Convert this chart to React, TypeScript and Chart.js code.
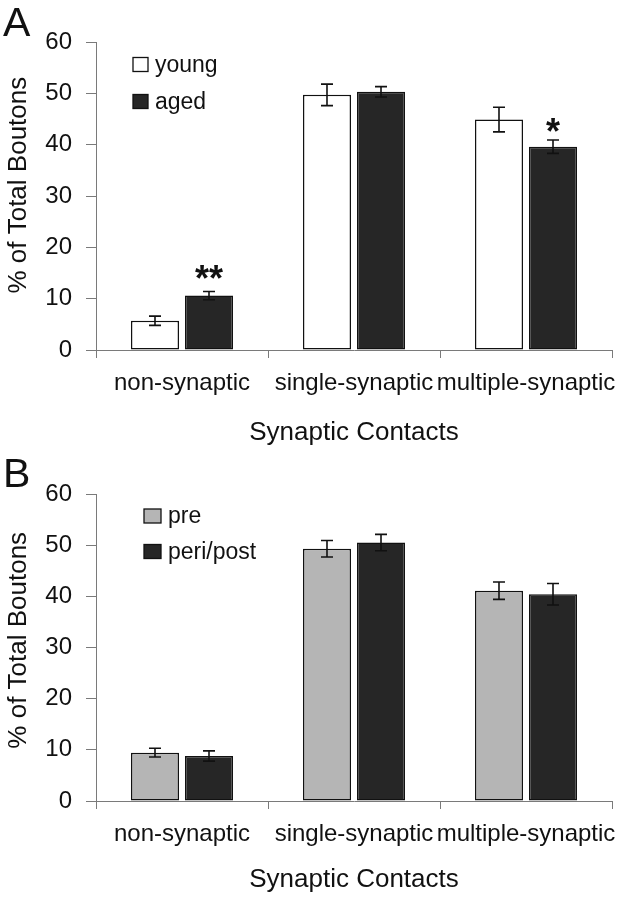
import React, { useEffect, useRef } from "react";
import { Chart, registerables } from "chart.js";

Chart.register(...registerables);

const FONT = "'Liberation Sans', Arial, Helvetica, sans-serif";

// ---------- data ----------
const categories = ["non-synaptic", "single-synaptic", "multiple-synaptic"];
const yTickValues = [0, 10, 20, 30, 40, 50, 60];
const xAxisTitle = "Synaptic Contacts";
const yAxisTitle = "% of Total Boutons";

// Panel A
const youngValues = [5.7, 49.7, 44.9];
const youngErrors = [0.9, 2.1, 2.4];
const agedValues = [10.6, 50.3, 39.6];
const agedErrors = [0.8, 1.0, 1.3];
const agedMarks = ["**", "", "*"];
const agedMarkValues = [15.5, null, 44.1];

// Panel B
const preValues = [9.45, 49.3, 41.1];
const preErrors = [0.85, 1.6, 1.7];
const periPostValues = [8.8, 50.5, 40.4];
const periPostErrors = [1.0, 1.6, 2.1];

// ---------- plugins ----------
const errorBarPlugin = {
  id: "errorBars",
  afterDatasetsDraw(chart: any) {
    const { ctx } = chart;
    const y = chart.scales.y;
    chart.data.datasets.forEach((ds: any, i: number) => {
      const errs = ds.errors;
      if (!errs) return;
      const meta = chart.getDatasetMeta(i);
      meta.data.forEach((bar: any, j: number) => {
        const v = ds.data[j];
        const e = errs[j];
        const yt = y.getPixelForValue(v + e);
        const yb = y.getPixelForValue(v - e);
        const cap = 6;
        ctx.save();
        ctx.strokeStyle = "#111";
        ctx.lineWidth = 1.6;
        ctx.beginPath();
        ctx.moveTo(bar.x, yt);
        ctx.lineTo(bar.x, yb);
        ctx.moveTo(bar.x - cap, yt);
        ctx.lineTo(bar.x + cap, yt);
        ctx.moveTo(bar.x - cap, yb);
        ctx.lineTo(bar.x + cap, yb);
        ctx.stroke();
        ctx.restore();
      });
    });
  },
};

const marksPlugin = {
  id: "sigMarks",
  afterDatasetsDraw(chart: any) {
    const { ctx } = chart;
    const y = chart.scales.y;
    chart.data.datasets.forEach((ds: any, i: number) => {
      if (!ds.marks) return;
      const meta = chart.getDatasetMeta(i);
      const size = 36;
      ds.marks.forEach((m: string, j: number) => {
        const mv = ds.markValues[j];
        if (!m || mv == null) return;
        const cy = y.getPixelForValue(mv);
        ctx.save();
        ctx.fillStyle = "#111";
        ctx.font = `bold ${size}px ${FONT}`;
        ctx.textAlign = "center";
        ctx.textBaseline = "alphabetic";
        ctx.fillText(m, meta.data[j].x, cy + 0.57 * size);
        ctx.restore();
      });
    });
  },
};

const insetLegendPlugin = {
  id: "insetLegend",
  afterDraw(chart: any, _args: any, opts: any) {
    const { ctx, chartArea } = chart;
    chart.data.datasets.forEach((ds: any, i: number) => {
      const cy = chartArea.top + opts.y + i * opts.spacing;
      const bx = chartArea.left + opts.x;
      ctx.save();
      ctx.fillStyle = ds.backgroundColor;
      ctx.fillRect(bx, cy - opts.boxH / 2, opts.boxW, opts.boxH);
      ctx.strokeStyle = "#111";
      ctx.lineWidth = 1.3;
      ctx.strokeRect(bx, cy - opts.boxH / 2, opts.boxW, opts.boxH);
      ctx.fillStyle = "#111";
      ctx.font = `${opts.fontSize}px ${FONT}`;
      ctx.textAlign = "left";
      ctx.textBaseline = "middle";
      ctx.fillText(ds.label, bx + opts.boxW + 7, cy + 1);
      ctx.restore();
    });
  },
};

type PanelProps = {
  datasets: any[];
  height: number;
  padTop: number;
  xAxisHeight: number;
  xTitlePadBottom: number;
  yTitleText: string;
  legend: any;
};

function BarPanel(props: PanelProps) {
  const ref = useRef<HTMLCanvasElement | null>(null);
  useEffect(() => {
    if (!ref.current) return;
    const chart = new Chart(ref.current, {
      type: "bar",
      data: {
        labels: categories,
        datasets: props.datasets.map((d) => ({
          ...d,
          borderColor: "#111",
          borderWidth: 1.5,
          borderSkipped: false,
          categoryPercentage: 0.628,
          barPercentage: 0.89,
        })),
      },
      plugins: [errorBarPlugin, marksPlugin, insetLegendPlugin],
      options: {
        responsive: false,
        animation: false,
        devicePixelRatio: 1,
        layout: { padding: { top: props.padTop, right: 19, left: 0, bottom: 0 } },
        plugins: {
          legend: { display: false },
          tooltip: { enabled: false },
          insetLegend: props.legend,
        } as any,
        scales: {
          x: {
            offset: true,
            grid: {
              offset: true,
              drawOnChartArea: false,
              drawTicks: true,
              tickLength: 8,
              color: "#7a7a7a",
            },
            border: { color: "#7a7a7a", width: 1 },
            ticks: {
              color: "#111",
              font: { size: 24, family: FONT },
              padding: 11,
              maxRotation: 0,
              autoSkip: false,
            },
            title: {
              display: true,
              text: xAxisTitle,
              color: "#111",
              font: { size: 26, family: FONT, lineHeight: 1 },
              padding: { top: 0, bottom: props.xTitlePadBottom },
            },
            afterFit: (s: any) => {
              s.height = props.xAxisHeight;
            },
          },
          y: {
            min: 0,
            max: 60,
            grid: {
              drawOnChartArea: false,
              drawTicks: true,
              tickLength: 10,
              color: "#7a7a7a",
            },
            border: { color: "#7a7a7a", width: 1 },
            ticks: {
              color: "#111",
              font: { size: 24, family: FONT },
              padding: 14,
            },
            afterBuildTicks: (s: any) => {
              s.ticks = yTickValues.map((v) => ({ value: v }));
            },
            title: {
              display: true,
              text: props.yTitleText,
              color: "#111",
              font: { size: 26, family: FONT, lineHeight: 1 },
              padding: { top: 6, bottom: 0 },
            },
            afterFit: (s: any) => {
              s.width = 96;
            },
          },
        },
      } as any,
    });
    return () => chart.destroy();
  }, []);
  return (
    <canvas
      ref={ref}
      width={631}
      height={props.height}
      style={{ display: "block", width: 631, height: props.height }}
    />
  );
}

const letterStyle: React.CSSProperties = {
  position: "absolute",
  left: 3,
  fontFamily: FONT,
  fontSize: 41,
  lineHeight: "41px",
  color: "#111",
  margin: 0,
};

export default function App() {
  const datasetsA = [
    { label: "young", data: youngValues, errors: youngErrors, backgroundColor: "#ffffff" },
    {
      label: "aged",
      data: agedValues,
      errors: agedErrors,
      backgroundColor: "#262626",
      marks: agedMarks,
      markValues: agedMarkValues,
    },
  ];
  const datasetsB = [
    { label: "pre", data: preValues, errors: preErrors, backgroundColor: "#b5b5b5" },
    { label: "peri/post", data: periPostValues, errors: periPostErrors, backgroundColor: "#262626" },
  ];
  return (
    <div
      style={{
        position: "absolute",
        left: 0,
        top: 0,
        width: 631,
        height: 899,
        background: "#fff",
        overflow: "hidden",
      }}
    >
      <div style={{ position: "absolute", left: 0, top: 0 }}>
        <BarPanel
          datasets={datasetsA}
          height={450}
          padTop={42}
          xAxisHeight={100}
          xTitlePadBottom={4}
          yTitleText={"   " + yAxisTitle}
          legend={{ x: 37, y: 22.5, spacing: 37, boxW: 15, boxH: 14, fontSize: 23 }}
        />
      </div>
      <div style={{ position: "absolute", left: 0, top: 450 }}>
        <BarPanel
          datasets={datasetsB}
          height={449}
          padTop={44}
          xAxisHeight={98}
          xTitlePadBottom={6}
          yTitleText={"  " + yAxisTitle}
          legend={{ x: 48, y: 22, spacing: 35.5, boxW: 17, boxH: 14, fontSize: 23 }}
        />
      </div>
      <div style={{ ...letterStyle, top: 2 }}>A</div>
      <div style={{ ...letterStyle, top: 453 }}>B</div>
    </div>
  );
}
